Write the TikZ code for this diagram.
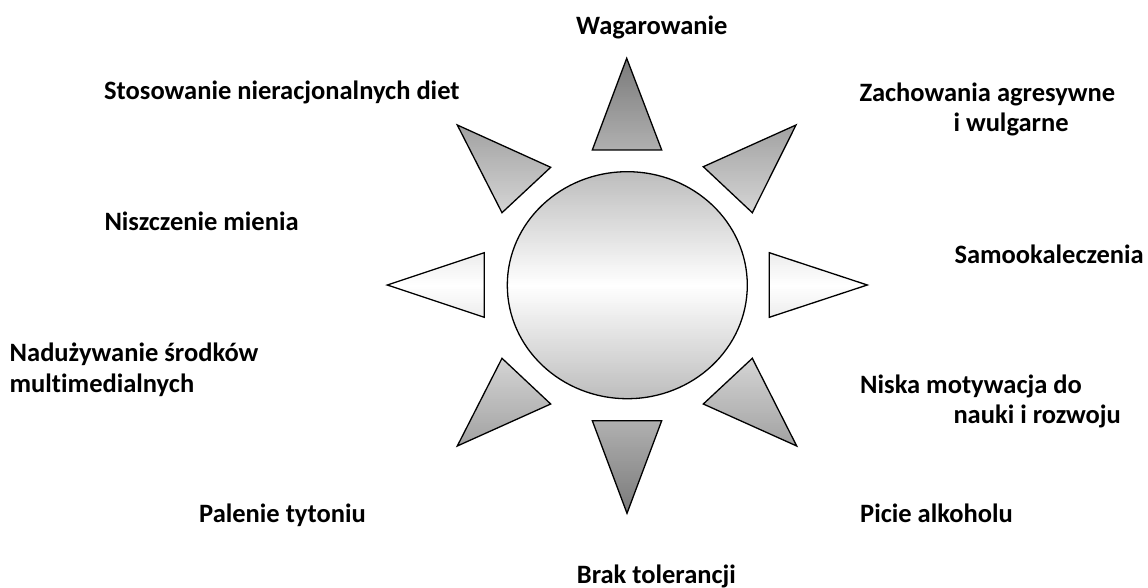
\documentclass[tikz,border=0pt]{standalone}
\usepackage{fontspec}
\setmainfont[Ligatures=CommonOff]{Carlito}
\begin{document}
\begin{tikzpicture}[x=1pt,y=-1pt,
  lbl/.style={anchor=base west,inner sep=0pt,font=\fontsize{26.5}{31}\selectfont\bfseries},
  sunline/.style={draw=black,line width=1.3pt,line join=miter}]
\useasboundingbox (0,0) rectangle (1148,588);
\path[save path=\sunp]
  (626.7,58.3) -- (661.7,150) -- (592.3,150) -- cycle
  (457.3,125) -- (550.7,167.3) -- (502,212.7) -- cycle
  (796,125) -- (752.3,212.7) -- (703.3,166.7) -- cycle
  (387.3,285) -- (484.3,252.7) -- (484.3,317.3) -- cycle
  (867.3,285) -- (769.3,317.3) -- (769.3,252.7) -- cycle
  (502,358.3) -- (550.7,404) -- (457.3,446) -- cycle
  (752.3,358.3) -- (796.7,446) -- (703.3,404) -- cycle
  (592.3,420.7) -- (661.7,420.7) -- (627,513.3) -- cycle
  (627.3,285.2) ellipse [x radius=120,y radius=113.5];
\begin{scope}
  \clip[use path=\sunp];
  \foreach \i in {0,...,229} {
    \pgfmathsetmacro{\yy}{57+2*\i}
    \pgfmathsetmacro{\pp}{52*abs(\yy+1-285.8)/227.5}
    \colorlet{stripcol}{black!\pp}
    \fill[stripcol] (380,\yy) rectangle (880,\yy+2.3);
  }
\end{scope}
\path[sunline,use path=\sunp];
\node[lbl] (wag) at (576,35) {Wagarowanie};
\node[lbl] (diet) at (104,100) {Stosowanie nieracjonalnych diet};
\node[lbl] (agr1) at (859.3,101.7) {Zachowania agresywne};
\node[lbl] (agr2) at (953.3,131.7) {i wulgarne};
\node[lbl] (mien) at (104.3,230.7) {Niszczenie mienia};
\node[lbl] (samo) at (954.3,263.3) {Samookaleczenia};
\node[lbl] (nad1) at (9.5,361) {Nadużywanie środków};
\node[lbl] (nad2) at (9.5,392) {multimedialnych};
\node[lbl] (mot1) at (860,393.3) {Niska motywacja do};
\node[lbl] (mot2) at (953.3,423.3) {nauki i rozwoju};
\node[lbl] (pal) at (199,522.7) {Palenie tytoniu};
\node[lbl] (alk) at (860,522.7) {Picie alkoholu};
\node[lbl] (brak) at (576.7,583.3) {Brak tolerancji};
\end{tikzpicture}
\end{document}
